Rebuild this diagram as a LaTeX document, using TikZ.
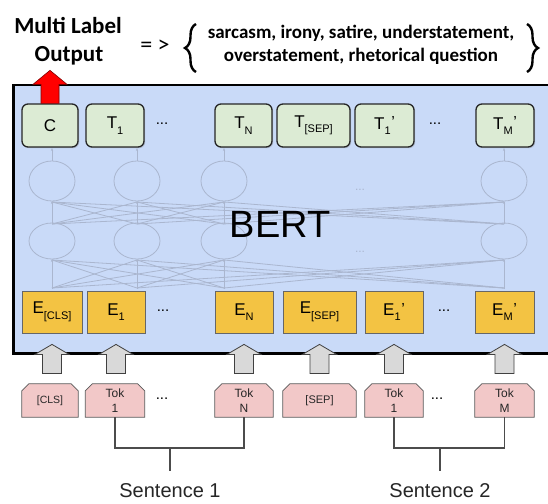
\documentclass[tikz,border=0pt]{standalone}
\usepackage{fontspec}
\setmainfont{Liberation Sans}
\newfontfamily\calfont{Carlito}
\usetikzlibrary{calc,decorations.pathreplacing,shadows,arrows.meta}
\definecolor{bertbg}{HTML}{C9DAF8}
\definecolor{greenc}{HTML}{DCEBD4}
\definecolor{yellowc}{HTML}{F3C343}
\definecolor{pinkc}{HTML}{F2C8C8}
\definecolor{netc}{RGB}{170,182,207}
\definecolor{arrowgray}{HTML}{D9D9D9}
\pgfdeclarelayer{bg}
\pgfsetlayers{bg,main}
\newcommand\sbs[2]{#1\raisebox{-0.32em}{\fontsize{11}{11}\selectfont #2}}
\newcommand\sbp[2]{#1\raisebox{-0.32em}{\fontsize{11}{11}\selectfont #2}\kern0.6pt\raisebox{1.5pt}{\fontsize{16}{16}\selectfont '}}
\begin{document}
\begin{tikzpicture}[x=1pt,y=-1pt,
  greenbox/.style={draw=black!85, fill=greenc, rounded corners=6pt, line width=1.3pt,
    minimum height=43pt, inner sep=0pt, font=\fontsize{17}{17}\selectfont,
    drop shadow={shadow xshift=1.2pt,shadow yshift=-1.2pt,opacity=0.35}},
  ybox/.style={draw=black!60, fill=yellowc, line width=0.8pt, minimum height=42pt,
    inner sep=0pt, font=\fontsize{17}{17}\selectfont},
  tokbox/.style={minimum height=33pt, inner sep=0pt, text=black!85,
    font=\fontsize{12}{15}\selectfont, align=center},
  tokshape/.style={draw=black!65, fill=pinkc, line width=0.8pt},
  grayarrow/.style={draw=black!75, fill=arrowgray, line width=0.8pt},
  netline/.style={draw=netc, line width=0.8pt},
  dotsnode/.style={font=\fontsize{15}{15}\selectfont},
  bracket/.style={draw=black!70, line width=1.1pt},
  sentence/.style={font=\fontsize{20}{20}\selectfont, text=black!85}
]
\useasboundingbox (0,0) rectangle (548,503);

% network (faint)
\foreach \x in {52,137,224,504}{
  \draw[netline] (\x,181) ellipse [x radius=23, y radius=20];
  \draw[netline] (\x,241) ellipse [x radius=23, y radius=18];
  \draw[netline,-{Stealth[length=3pt]}] (\x,289) -- (\x,259);
  \draw[netline,-{Stealth[length=3pt]}] (\x,223) -- (\x,201);
  \draw[netline,-{Stealth[length=3pt]}] (\x,161) -- (\x,148);
  \foreach \y in {52,137,224,504}{
    \draw[netline] (\x,288) -- (\y,260);
    \draw[netline] (\x,224) -- (\y,202);
  }
}
\node[text=netc, font=\fontsize{12}{12}\selectfont] (nd1) at (360,190) {...};
\node[text=netc, font=\fontsize{12}{12}\selectfont] (nd2) at (360,252) {...};
\node[font=\fontsize{38}{38}\selectfont] (bert) at (280,224) {BERT};

% green output row
\node[greenbox, minimum width=56pt] (c) at (50,125.5) {C};
\node[greenbox, minimum width=58pt] (t1) at (115,125.5) {\sbs{T}{1}};
\node[dotsnode] (gd1) at (162,124) {...};
\node[greenbox, minimum width=57pt] (tn) at (243.5,125.5) {\sbs{T}{N}};
\node[greenbox, minimum width=73pt] (tsep) at (313.5,125.5) {\sbs{T}{[SEP]}};
\node[greenbox, minimum width=59pt] (t1p) at (384.5,125.5) {\sbp{T}{1}};
\node[dotsnode] (gd2) at (435,124) {...};
\node[greenbox, minimum width=58pt] (tmp) at (505,125.5) {\sbp{T}{M}};

% red output arrow
\draw[fill=red, draw=red!50!black, line width=0.6pt]
  ($(c.north)+(-9,0)$) -- ($(c.north)+(-9,-19)$) -- ($(c.north)+(-17,-19)$) --
  ($(c.north)+(0,-33)$) -- ($(c.north)+(17,-19)$) -- ($(c.north)+(9,-19)$) --
  ($(c.north)+(9,0)$) -- cycle;

% yellow embedding row
\node[ybox, minimum width=60pt] (ecls) at (52,312) {\sbs{E}{[CLS]}};
\node[ybox, minimum width=58pt] (e1) at (116,312) {\sbs{E}{1}};
\node[dotsnode] (yd1) at (163,311) {...};
\node[ybox, minimum width=58pt] (en) at (244,312) {\sbs{E}{N}};
\node[ybox, minimum width=73pt] (esep) at (319.5,312) {\sbs{E}{[SEP]}};
\node[ybox, minimum width=58pt] (e1p) at (394,312) {\sbp{E}{1}};
\node[dotsnode] (yd2) at (444,311) {...};
\node[ybox, minimum width=59pt] (emp) at (504.5,312) {\sbp{E}{M}};

% gray input arrows
\foreach \n in {ecls,e1,en,esep,e1p,emp}{
  \draw[grayarrow] ($(\n.south)+(-9.5,40)$) -- ($(\n.south)+(-9.5,21)$) --
    ($(\n.south)+(-17,21)$) -- ($(\n.south)+(0,11)$) -- ($(\n.south)+(17,21)$) --
    ($(\n.south)+(9.5,21)$) -- ($(\n.south)+(9.5,40)$) -- cycle;
}

% token row
\node[tokbox, minimum width=56pt, font=\fontsize{10.5}{12}\selectfont] (tcls) at (50,400.5) {[CLS]};
\node[tokbox, minimum width=59pt] (tok1) at (115,400.5) {Tok\\1};
\node[dotsnode] (td1) at (162,399) {...};
\node[tokbox, minimum width=58pt] (tokn) at (244,400.5) {Tok\\N};
\node[tokbox, minimum width=73pt, font=\fontsize{11}{12}\selectfont] (tsepk) at (319.5,400.5) {[SEP]};
\node[tokbox, minimum width=58pt] (tok1p) at (394,400.5) {Tok\\1};
\node[dotsnode] (td2) at (437,399) {...};
\node[tokbox, minimum width=59pt] (tokm) at (504.5,400.5) {Tok\\M};

\begin{pgfonlayer}{bg}
  \fill[white] (0,0) rectangle (548,503);
  \fill[bertbg] (12,85) rectangle (548,353);
  \draw[line width=2pt] (12,85) -- (548,85);
  \draw[line width=3pt] (12,353) -- (548,353);
  \draw[line width=3.5pt] (13.5,84) -- (13.5,354.5);
  \foreach \n in {tcls,tok1,tokn,tsepk,tok1p,tokm}{
    \draw[tokshape] (\n.south west) -- ($(\n.north west)+(0,7)$) -- ($(\n.north west)+(7,0)$) --
      ($(\n.north east)+(-7,0)$) -- ($(\n.north east)+(0,7)$) -- (\n.south east) -- cycle;
  }
\end{pgfonlayer}

% sentence brackets
\coordinate (s1) at (170,448);
\coordinate (s1b) at (170,471);
\coordinate (s2) at (440,448);
\coordinate (s2b) at (440,471);
\draw[bracket] (tok1.south) |- (s1) -| (tokn.south);
\draw[bracket] (s1) -- (s1b);
\draw[bracket] (tok1p.south) |- (s2) -| (tokm.south);
\draw[bracket] (s2) -- (s2b);
\node[sentence] (sent1) at (170,491) {Sentence 1};
\node[sentence] (sent2) at (440,491) {Sentence 2};

% title and labels
\node[font=\calfont\bfseries\fontsize{23}{23}\selectfont, anchor=base] (title1) at (68,34) {Multi Label};
\node[font=\calfont\bfseries\fontsize{23}{23}\selectfont, anchor=base] (title2) at (69,61) {Output};
\node[font=\calfont\fontsize{24}{24}\selectfont] (imp) at (155,46) {= >};
\node[font=\calfont\bfseries\fontsize{19}{19}\selectfont, anchor=base] (lab1) at (361,38) {sarcasm, irony, satire, understatement,};
\node[font=\calfont\bfseries\fontsize{19}{19}\selectfont, anchor=base] (lab2) at (361,61) {overstatement, rhetorical question};
\draw[decorate, decoration={brace, amplitude=11pt}, line width=2.4pt] (196,72) -- (196,24);
\draw[decorate, decoration={brace, amplitude=11pt}, line width=2.4pt] (527,24) -- (527,72);
\end{tikzpicture}
\end{document}
